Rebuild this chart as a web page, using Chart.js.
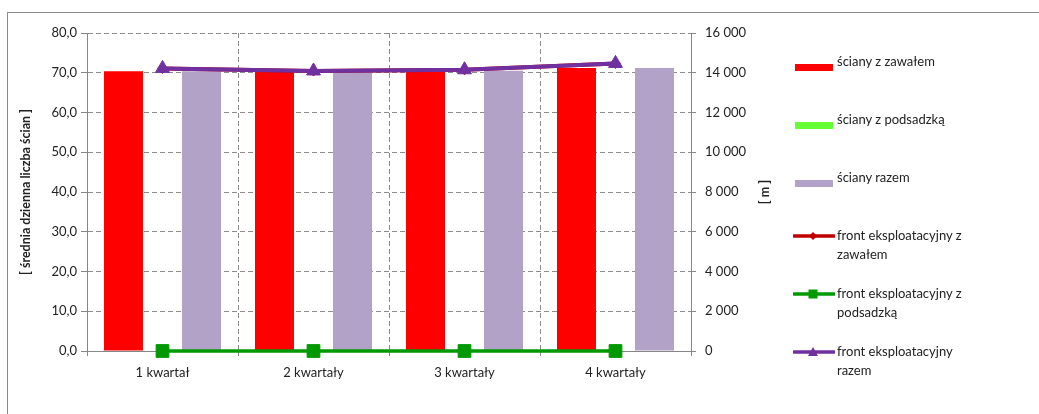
<!DOCTYPE html>
<html>
<head>
<meta charset="utf-8">
<script src="https://cdn.jsdelivr.net/npm/chart.js@4/dist/chart.umd.min.js"></script>
<style>
    html, body { margin: 0; padding: 0; background: #fff; overflow: hidden; }
    #wrap { position: relative; width: 1039px; height: 414px; }
    #frame { position: absolute; left: 7px; top: 12px; width: 1100px; height: 500px; border: 1px solid #8a8a8a; }
    #chart { position: absolute; left: 0; top: 0; }
    .leg { position: absolute; left: 795px; font: 13px Lato, sans-serif; color: #222; }
    .leg .sw { position: absolute; left: 0; }
    .leg .tx { position: absolute; left: 42px; width: 152px; line-height: 18.5px; }
    #rtitle { position: absolute; left: 764px; top: 192px; font: bold 12.5px Lato, sans-serif; color: #222;
              transform: translate(-50%, -50%) rotate(-90deg); white-space: pre; }
</style>
</head>
<body>
<div id="wrap">
    <div id="frame"></div>
    <canvas id="chart" width="1039" height="414"></canvas>
    <div id="rtitle">[ m ]</div>
    <div id="legend"></div>
</div>
<script>
const categories = ['1 kwartał', '2 kwartały', '3 kwartały', '4 kwartały'];

// bars, left axis
const scianyZZawalem = [70.4, 70.2, 70.5, 71.2];
const scianyZPodsadzka = [0, 0, 0, 0];
const scianyRazem = [70.4, 70.2, 70.5, 71.2];

// lines, right axis [m]
const frontZZawalem = [14220, 14090, 14150, 14470];
const frontZPodsadzka = [0, 0, 0, 0];
const frontRazem = [14220, 14090, 14150, 14470];

const leftTicks = [0, 10, 20, 30, 40, 50, 60, 70, 80];
const rightTicks = [0, 2000, 4000, 6000, 8000, 10000, 12000, 14000, 16000];

const font = { family: 'Lato, sans-serif', size: 13 };
const gridGray = '#8c8c8c';
const axisGray = '#868686';

function fmtLeft(v) { return v.toFixed(1).replace('.', ','); }
function fmtRight(v) { return String(v).replace(/\B(?=(\d{3})+(?!\d))/g, ' '); }

const ctx = document.getElementById('chart').getContext('2d');
const chart = new Chart(ctx, {
    type: 'bar',
    data: {
        labels: categories,
        datasets: [
            { label: 'ściany z zawałem', data: scianyZZawalem, backgroundColor: '#ff0000', yAxisID: 'y', order: 10 },
            { label: 'ściany z podsadzką', data: scianyZPodsadzka, backgroundColor: '#66ff33', yAxisID: 'y', order: 10 },
            { label: 'ściany razem', data: scianyRazem, backgroundColor: '#b3a2c7', yAxisID: 'y', order: 10 },
            {
                type: 'line', label: 'front eksploatacyjny z zawałem', data: frontZZawalem, yAxisID: 'y1', order: 3,
                borderColor: '#c00000', backgroundColor: '#c00000', borderWidth: 4, clip: false,
                pointStyle: 'rectRot', pointRadius: 5, pointBorderWidth: 1
            },
            {
                type: 'line', label: 'front eksploatacyjny z podsadzką', data: frontZPodsadzka, yAxisID: 'y1', order: 2,
                borderColor: '#009900', backgroundColor: '#009900', borderWidth: 3.5, clip: false,
                pointStyle: 'rect', pointRadius: 9, pointBorderWidth: 1
            },
            {
                type: 'line', label: 'front eksploatacyjny razem', data: frontRazem, yAxisID: 'y1', order: 1,
                borderColor: '#7030a0', backgroundColor: '#7030a0', borderWidth: 4, clip: false,
                pointStyle: 'triangle', pointRadius: 8, pointBorderWidth: 1
            }
        ]
    },
    options: {
        responsive: false,
        animation: false,
        layout: { padding: { left: 0, right: 258, top: 33, bottom: 33 } },
        datasets: { bar: { categoryPercentage: 0.775, barPercentage: 1 } },
        plugins: { legend: { display: false }, tooltip: { enabled: false } },
        scales: {
            x: {
                afterFit: s => { s.height = 30; },
                grid: { offset: true, color: gridGray, tickColor: axisGray, tickLength: 5 },
                border: { color: axisGray, dash: [5, 3] },
                ticks: { font: font, color: '#222', padding: 9 }
            },
            y: {
                position: 'left', min: 0, max: 80,
                afterFit: s => { s.width = 87; },
                afterBuildTicks: s => { s.ticks = leftTicks.map(v => ({ value: v })); },
                grid: { color: gridGray, tickColor: axisGray, tickLength: 6 },
                border: { color: axisGray, dash: [5, 3] },
                ticks: { font: font, color: '#222', padding: 4, callback: v => fmtLeft(v) },
                title: {
                    display: true, text: '[ średnia dzienna liczba ścian ]', color: '#222',
                    font: { family: 'Lato, sans-serif', size: 12.5, weight: 'bold' }, padding: { top: 18 }
                }
            },
            y1: {
                position: 'right', min: 0, max: 16000,
                afterFit: s => { s.width = 90; },
                afterBuildTicks: s => { s.ticks = rightTicks.map(v => ({ value: v })); },
                grid: { drawOnChartArea: false, tickColor: axisGray, tickLength: 5 },
                border: { color: axisGray },
                ticks: { font: font, color: '#222', padding: 9, callback: v => fmtRight(v) }
            }
        }
    }
});

// legend on the right, built from the datasets
function swatchSvg(ds) {
    if (ds.type !== 'line') {
        return '<svg width="38" height="7"><rect x="0" y="0" width="38" height="7" fill="' + ds.backgroundColor + '"/></svg>';
    }
    const c = ds.borderColor;
    let mark = '';
    if (ds.pointStyle === 'rectRot') mark = '<polygon points="20,2 24,6 20,10 16,6" fill="' + c + '"/>';
    if (ds.pointStyle === 'rect') mark = '<rect x="15.5" y="1.5" width="9" height="9" fill="' + c + '"/>';
    if (ds.pointStyle === 'triangle') mark = '<polygon points="20,1 25,10 15,10" fill="' + c + '"/>';
    return '<svg width="42" height="12"><line x1="1" y1="6" x2="41" y2="6" stroke="' + c + '" stroke-width="3.5" stroke-linecap="round"/>' + mark + '</svg>';
}

const legendEl = document.getElementById('legend');
chart.data.datasets.forEach((ds, i) => {
    const cy = 61 + i * 58;
    const isLine = ds.type === 'line';
    const div = document.createElement('div');
    div.className = 'leg';
    div.style.top = (cy - 9) + 'px';
    div.style.left = (isLine ? 793 : 795) + 'px';
    div.innerHTML = '<div class="sw" style="top:' + (isLine ? 3 : 6) + 'px">' + swatchSvg(ds) + '</div>' +
        '<div class="tx" style="left:' + (isLine ? 44 : 42) + 'px">' + ds.label + '</div>';
    legendEl.appendChild(div);
});
</script>
</body>
</html>
